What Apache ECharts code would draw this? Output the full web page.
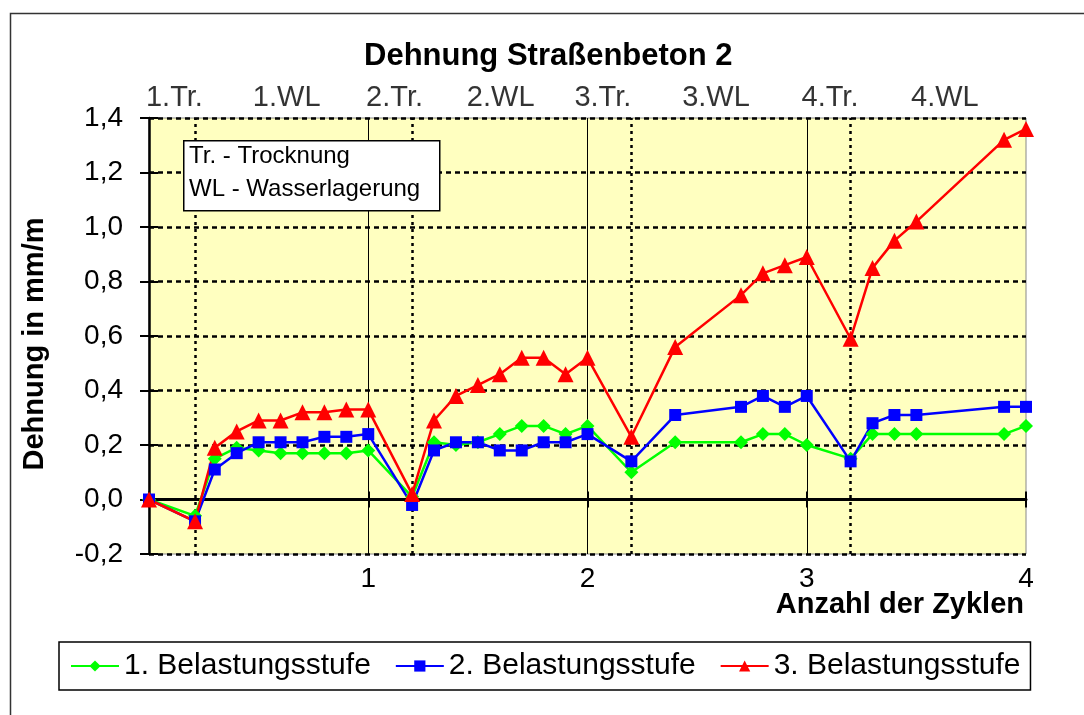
<!DOCTYPE html>
<html>
<head>
<meta charset="utf-8">
<script src="https://cdn.jsdelivr.net/npm/echarts@6/dist/echarts.min.js"></script>
<style>
  html, body { margin: 0; padding: 0; background: #fff; }
  #chart { width: 1084px; height: 715px; }
</style>
</head>
<body>
<div id="chart"></div>
<script>
// Zyklus-Position jedes Messpunkts
const cycles = [0, 0.21, 0.3, 0.4, 0.5, 0.6, 0.7, 0.8, 0.9, 1.0,
  1.2, 1.3, 1.4, 1.5, 1.6, 1.7, 1.8, 1.9, 2.0,
  2.2, 2.4, 2.7, 2.8, 2.9, 3.0,
  3.2, 3.3, 3.4, 3.5, 3.9, 4.0];

// Dehnung in mm/m je Belastungsstufe
const stage1 = [0, -0.06, 0.15, 0.19, 0.18, 0.17, 0.17, 0.17, 0.17, 0.18,
  0.01, 0.21, 0.20, 0.21, 0.24, 0.27, 0.27, 0.24, 0.27,
  0.10, 0.21, 0.21, 0.24, 0.24, 0.20,
  0.15, 0.24, 0.24, 0.24, 0.24, 0.27];
const stage2 = [0, -0.08, 0.11, 0.17, 0.21, 0.21, 0.21, 0.23, 0.23, 0.24,
  -0.02, 0.18, 0.21, 0.21, 0.18, 0.18, 0.21, 0.21, 0.24,
  0.14, 0.31, 0.34, 0.38, 0.34, 0.38,
  0.14, 0.28, 0.31, 0.31, 0.34, 0.34];
const stage3 = [0, -0.08, 0.19, 0.25, 0.29, 0.29, 0.32, 0.32, 0.33, 0.33,
  0.02, 0.29, 0.38, 0.42, 0.46, 0.52, 0.52, 0.46, 0.52,
  0.23, 0.56, 0.75, 0.83, 0.86, 0.89,
  0.59, 0.85, 0.95, 1.02, 1.32, 1.36];

const seriesNames = ['1. Belastungsstufe', '2. Belastungsstufe', '3. Belastungsstufe'];

// Phasen: Ende der Trocknung (gepunktet), Ende eines Zyklus (durchgezogen)
const dryingEnds = [0.21, 1.2, 2.2, 3.2];
const cycleEnds = [1, 2, 3];
const phaseNames = ['1.Tr.', '1.WL', '2.Tr.', '2.WL', '3.Tr.', '3.WL', '4.Tr.', '4.WL'];
const phaseCenters = [0.116, 0.628, 1.12, 1.604, 2.07, 2.586, 3.106, 3.63];

const yTicks = { min: -0.2, max: 1.4, interval: 0.2 };
const xTicks = { min: 0, max: 4, interval: 1 };

const FONT = '"Liberation Sans", Arial, sans-serif';
const pair = (ys) => cycles.map((x, i) => [x, ys[i]]);

const chart = echarts.init(document.getElementById('chart'), null, { renderer: 'canvas' });

const markLines = [];
cycleEnds.forEach(v => markLines.push({ xAxis: v, lineStyle: { color: '#000', width: 1, type: 'solid' } }));
dryingEnds.forEach(v => markLines.push({ xAxis: v, lineStyle: { color: '#000', width: 2.5, type: [3, 4] } }));

function lineSeries(name, ys, color, symbol, size) {
  return {
    name, type: 'line', data: pair(ys),
    symbol, symbolSize: size,
    lineStyle: { color, width: 2.5 },
    itemStyle: { color, borderWidth: 0 },
    z: 5
  };
}

chart.setOption({
  animation: false,
  textStyle: { fontFamily: FONT, color: '#000' },
  title: [
    {
      text: 'Dehnung Straßenbeton 2',
      left: 364, top: 41, padding: 0,
      textStyle: { fontFamily: FONT, fontSize: 31, fontWeight: 'bold', color: '#000' }
    },
    {
      text: 'Anzahl der Zyklen',
      right: 60, top: 590, padding: 0,
      textStyle: { fontFamily: FONT, fontSize: 29, fontWeight: 'bold', color: '#000' }
    }
  ],
  graphic: [
    { type: 'rect', left: 8, top: 11, z: -10, silent: true,
      shape: { width: 1200, height: 1000 },
      style: { fill: 'none', stroke: '#333', lineWidth: 1.5 } },
    { type: 'rect', left: 183, top: 140, z: 100, silent: true,
      shape: { width: 256, height: 70 },
      style: { fill: '#fff', stroke: '#000', lineWidth: 1.5 } },
    { type: 'text', left: 189, top: 144, z: 101, silent: true,
      style: { text: 'Tr. - Trocknung', font: '24px ' + FONT, fill: '#000' } },
    { type: 'text', left: 189, top: 177, z: 101, silent: true,
      style: { text: 'WL - Wasserlagerung', font: '24px ' + FONT, fill: '#000' } }
  ],
  legend: {
    data: seriesNames,
    left: 59, top: 642,
    padding: [9, 10, 9, 11],
    itemGap: 24, itemWidth: 48, itemHeight: 14,
    borderColor: '#000', borderWidth: 1.5,
    textStyle: { fontFamily: FONT, fontSize: 30, color: '#000' }
  },
  grid: {
    left: 149, right: 58, top: 118, bottom: 161,
    containLabel: false, outerBoundsMode: 'none',
    show: true, backgroundColor: '#FFFFC0', borderColor: '#888', borderWidth: 1
  },
  xAxis: [
    {
      type: 'value', min: xTicks.min, max: xTicks.max, interval: xTicks.interval,
      position: 'bottom',
      axisLine: { show: false, onZero: false },
      axisTick: { show: false },
      splitLine: { show: false },
      axisLabel: {
        fontFamily: FONT, fontSize: 28, color: '#000', margin: 11,
        formatter: v => (v === 0 ? '' : String(v))
      }
    },
    {
      type: 'value', min: xTicks.min, max: xTicks.max, interval: xTicks.interval,
      position: 'bottom',
      axisLine: { show: true, onZero: true, lineStyle: { color: '#000', width: 3 } },
      axisTick: { show: true, length: 8, lineStyle: { color: '#000', width: 2 } },
      axisLabel: { show: false }, splitLine: { show: false }
    },
    {
      type: 'value', min: xTicks.min, max: xTicks.max, interval: xTicks.interval,
      position: 'bottom',
      axisLine: { show: false, onZero: true },
      axisTick: { show: true, inside: true, length: 8, lineStyle: { color: '#000', width: 2 } },
      axisLabel: { show: false }, splitLine: { show: false }
    }
  ],
  yAxis: [
    {
      type: 'value', min: yTicks.min, max: yTicks.max, interval: yTicks.interval,
      position: 'left',
      axisLine: { show: true, onZero: false, lineStyle: { color: '#000', width: 2.5 } },
      axisTick: { show: true, length: 9, lineStyle: { color: '#000', width: 2 } },
      axisLabel: {
        fontFamily: FONT, fontSize: 28, color: '#000', margin: 26,
        formatter: v => v.toFixed(1).replace('.', ',')
      },
      splitLine: { show: true, lineStyle: { color: '#000', width: 2.5, type: [5, 4] } },
      name: 'Dehnung in mm/m',
      nameLocation: 'middle', nameGap: 100, nameRotate: 90,
      nameTextStyle: {
        fontFamily: FONT, fontSize: 29, fontWeight: 'bold', color: '#000',
        padding: [0, 16, 0, 0]
      }
    },
    {
      type: 'value', min: yTicks.min, max: yTicks.max, interval: yTicks.interval,
      position: 'left',
      axisLine: { show: false, onZero: false },
      axisTick: { show: true, inside: true, length: 9, lineStyle: { color: '#000', width: 2 } },
      axisLabel: { show: false }, splitLine: { show: false }
    }
  ],
  series: [
    {
      name: 'Phasengrenzen', type: 'line', data: [], z: 1,
      markLine: { silent: true, symbol: 'none', label: { show: false }, data: markLines, animation: false }
    },
    {
      name: 'Phasen', type: 'scatter', clip: false, silent: true, symbolSize: 0, z: 6,
      data: phaseNames.map((n, i) => ({ name: n, value: [phaseCenters[i], yTicks.max] })),
      label: {
        show: true, position: 'top', distance: 6,
        formatter: p => p.name,
        fontFamily: FONT, fontSize: 29, color: '#000'
      }
    },
    lineSeries(seriesNames[0], stage1, '#00FF00', 'diamond', 14),
    lineSeries(seriesNames[1], stage2, '#0000FF', 'rect', 12),
    lineSeries(seriesNames[2], stage3, '#FF0000', 'triangle', 16)
  ]
});
</script>
</body>
</html>
